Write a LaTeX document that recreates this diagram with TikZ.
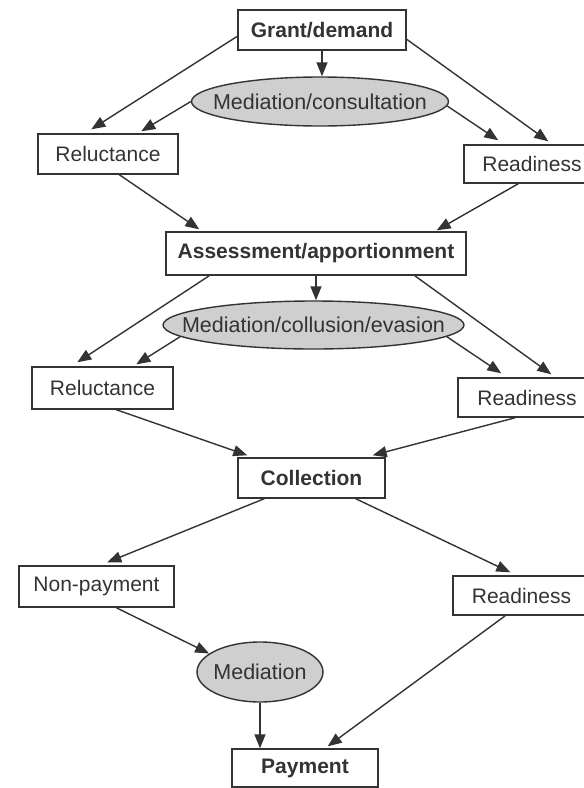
\documentclass[tikz,border=0pt]{standalone}
\usepackage{fontspec}
\setmainfont{Liberation Sans}
\usetikzlibrary{shapes.geometric,arrows.meta,calc}
\definecolor{ink}{HTML}{333333}
\definecolor{medfill}{HTML}{CFCFCF}
\begin{document}
\begin{tikzpicture}[x=1pt,y=-1pt,
  box/.style={draw=ink,line width=1.4pt,rectangle,inner sep=0pt,text=ink,
    font=\fontsize{21}{24}\selectfont},
  bbox/.style={box,font=\fontsize{21}{24}\selectfont\bfseries},
  med/.style={ellipse,draw=ink,fill=medfill,line width=1.4pt,inner sep=0pt},
  medtext/.style={text=ink,inner sep=0pt,font=\fontsize{21.5}{24}\selectfont},
  conn/.style={draw=ink,line width=1.4pt,-{Triangle[length=14pt,width=11pt]}}]
\useasboundingbox (0,0) rectangle (584,788);
\clip (0,0) rectangle (584,788);

\node[bbox,minimum width=168pt,minimum height=40pt] (G) at (322,30) {Grant/demand};
\node[med,minimum width=257pt,minimum height=49pt,
  label={[medtext]center:Mediation/consultation}] (M1) at (320,101.5) {};
\node[box,minimum width=140pt,minimum height=40pt] (R1) at (108,154) {Reluctance};
\node[box,minimum width=136pt,minimum height=38pt] (D1) at (532,164) {Readiness};

\node[bbox,minimum width=300pt,minimum height=43pt] (A) at (316,253.5) {Assessment/apportionment};
\node[med,minimum width=301pt,minimum height=48pt,
  label={[medtext]center:Mediation/collusion/evasion}] (M2) at (313.5,325) {};
\node[box,minimum width=141pt,minimum height=42pt] (R2) at (102.5,388) {Reluctance};
\node[box,minimum width=138pt,minimum height=39pt] (D2) at (527,397.5) {Readiness};

\node[bbox,minimum width=147pt,minimum height=40pt] (C) at (311.5,478) {Collection};
\node[box,minimum width=155pt,minimum height=41pt] (N) at (96.5,586.5) {Non-payment};
\node[box,minimum width=137pt,minimum height=39pt] (D3) at (521.5,595.5) {Readiness};
\node[med,minimum width=126pt,minimum height=60pt,
  label={[medtext]center:Mediation}] (M3) at (260,672) {};
\node[bbox,minimum width=146pt,minimum height=38pt] (P) at (305,768) {Payment};

\draw[conn] ([yshift=-27pt]G.north west) -- ([xshift=54pt,yshift=4pt]R1.north west);
\draw[conn] (G.south) -- (G.south |- M1.north);
\draw[conn] ([yshift=-30pt]G.north east) -- ([xshift=85pt,yshift=3pt]D1.north west);
\draw[conn] (M1.west) -- ([xshift=104pt,yshift=2pt]R1.north west);
\draw[conn] (M1.-2) -- ([xshift=35pt,yshift=4pt]D1.north west);

\draw[conn] ([xshift=82pt]R1.south west) -- ([xshift=34pt,yshift=2pt]A.north west);
\draw[conn] ([xshift=55pt]D1.south west) -- ([xshift=-30pt,yshift=1pt]A.north east);

\draw[conn] ([xshift=44pt]A.south west) -- ([xshift=46pt,yshift=4pt]R2.north west);
\draw[conn] (A.south) -- (A.south |- M2.north);
\draw[conn] ([xshift=-52pt]A.south east) -- ([xshift=94pt,yshift=3pt]D2.north west);
\draw[conn] (M2.185) -- ([xshift=105pt,yshift=2pt]R2.north west);
\draw[conn] (M2.-5) -- ([xshift=44pt,yshift=4pt]D2.north west);

\draw[conn] ([xshift=85pt]R2.south west) -- ([xshift=10pt,yshift=2pt]C.north west);
\draw[conn] ([xshift=58pt]D2.south west) -- ([xshift=-13pt,yshift=2pt]C.north east);

\draw[conn] ([xshift=27pt]C.south west) -- ([xshift=89pt,yshift=3pt]N.north west);
\draw[conn] ([xshift=-30pt]C.south east) -- ([xshift=58pt,yshift=3pt]D3.north west);
\draw[conn] ([xshift=98pt]N.south west) -- (M3.160);
\draw[conn] (M3.south) -- (M3.south |- P.north);
\draw[conn] ([xshift=53pt]D3.south west) -- ([xshift=-51pt,yshift=2pt]P.north east);
\end{tikzpicture}
\end{document}
